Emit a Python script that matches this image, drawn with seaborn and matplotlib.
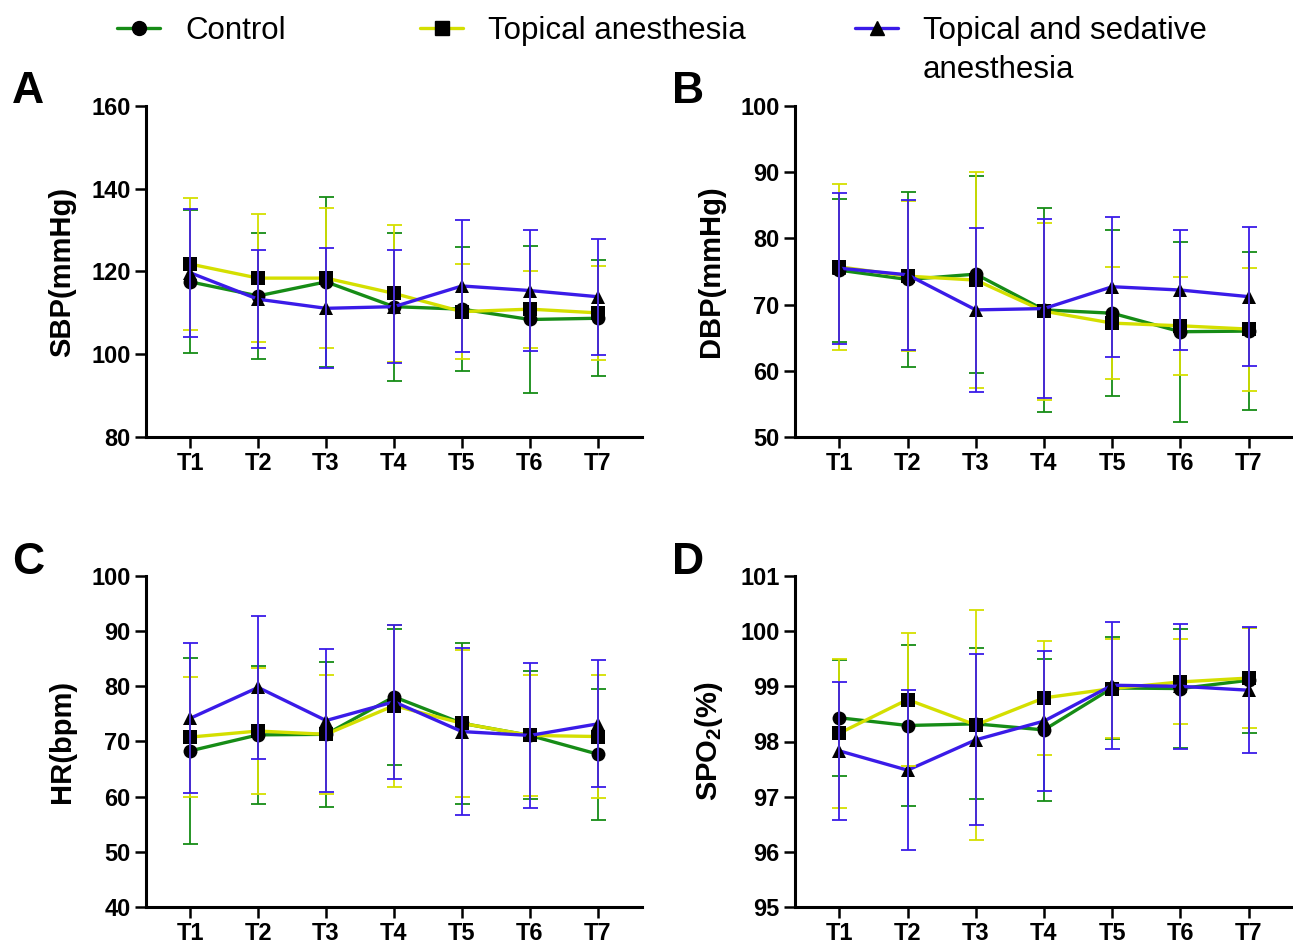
import pandas as pd
import matplotlib
matplotlib.use('Agg')
import matplotlib.pyplot as plt
import seaborn as sns
from matplotlib.lines import Line2D

# Time points and groups
times = ['T1', 'T2', 'T3', 'T4', 'T5', 'T6', 'T7']
groups = ['Control', 'Topical anesthesia', 'Topical and sedative anesthesia']
colors = ['#168c16', '#d4df00', '#3a1be8']
markers = ['o', 's', '^']

# SBP (mmHg): mean and SD
sbp_control = [117.5, 114.1, 117.5, 111.5, 110.9, 108.4, 108.7]
sbp_control_sd = [17.3, 15.2, 20.6, 17.9, 15.0, 17.8, 14.0]
sbp_topical = [121.8, 118.4, 118.4, 114.7, 110.3, 110.9, 110.0]
sbp_topical_sd = [16.0, 15.5, 17.0, 16.6, 11.4, 9.3, 11.4]
sbp_sedative = [119.7, 113.3, 111.1, 111.5, 116.5, 115.4, 113.9]
sbp_sedative_sd = [15.5, 11.8, 14.5, 13.6, 15.9, 14.7, 14.0]

# DBP (mmHg)
dbp_control = [75.2, 73.8, 74.6, 69.2, 68.7, 65.9, 66.0]
dbp_control_sd = [10.8, 13.2, 14.9, 15.4, 12.5, 13.6, 11.9]
dbp_topical = [75.7, 74.3, 73.7, 69.0, 67.2, 66.8, 66.3]
dbp_topical_sd = [12.5, 11.3, 16.3, 13.4, 8.5, 7.4, 9.3]
dbp_sedative = [75.5, 74.5, 69.2, 69.4, 72.7, 72.2, 71.2]
dbp_sedative_sd = [11.4, 11.3, 12.4, 13.5, 10.6, 9.1, 10.5]

# HR (bpm)
hr_control = [68.3, 71.2, 71.3, 78.1, 73.3, 71.1, 67.7]
hr_control_sd = [16.8, 12.5, 13.1, 12.3, 14.6, 11.6, 11.9]
hr_topical = [70.8, 71.9, 71.3, 76.5, 73.3, 71.1, 70.9]
hr_topical_sd = [10.9, 11.4, 10.8, 14.7, 13.3, 10.9, 11.1]
hr_sedative = [74.2, 79.8, 73.8, 77.2, 71.8, 71.1, 73.2]
hr_sedative_sd = [13.6, 13.0, 12.9, 14.0, 15.1, 13.2, 11.5]

# SpO2 (%)
spo2_control = [98.43, 98.29, 98.32, 98.21, 98.97, 98.96, 99.11]
spo2_control_sd = [1.05, 1.46, 1.37, 1.29, 0.92, 1.08, 0.95]
spo2_topical = [98.15, 98.76, 98.30, 98.79, 98.96, 99.08, 99.15]
spo2_topical_sd = [1.35, 1.20, 2.08, 1.03, 0.90, 0.77, 0.90]
spo2_sedative = [97.83, 97.48, 98.03, 98.37, 99.02, 99.00, 98.93]
spo2_sedative_sd = [1.25, 1.45, 1.55, 1.27, 1.15, 1.13, 1.14]

panels = [
    ('A', 'SBP(mmHg)', [sbp_control, sbp_topical, sbp_sedative],
     [sbp_control_sd, sbp_topical_sd, sbp_sedative_sd], (80, 160), 20),
    ('B', 'DBP(mmHg)', [dbp_control, dbp_topical, dbp_sedative],
     [dbp_control_sd, dbp_topical_sd, dbp_sedative_sd], (50, 100), 10),
    ('C', 'HR(bpm)', [hr_control, hr_topical, hr_sedative],
     [hr_control_sd, hr_topical_sd, hr_sedative_sd], (40, 100), 10),
    ('D', r'SPO$_\mathbf{2}$(%)', [spo2_control, spo2_topical, spo2_sedative],
     [spo2_control_sd, spo2_topical_sd, spo2_sedative_sd], (95, 101), 1),
]

sns.set_style('ticks')
plt.rcParams['font.family'] = ['Liberation Sans', 'DejaVu Sans']
plt.rcParams['mathtext.fontset'] = 'custom'
plt.rcParams['mathtext.rm'] = 'Liberation Sans'
plt.rcParams['mathtext.bf'] = 'Liberation Sans:bold'
for key in ['text.color', 'axes.labelcolor', 'xtick.color', 'ytick.color', 'axes.edgecolor']:
    plt.rcParams[key] = 'black'

W, H = 1293, 949
fig = plt.figure(figsize=(W / 100, H / 100), dpi=100)

# axes boxes in pixels: left, top, right, bottom
boxes = [(146, 106, 642, 437), (795, 106, 1293, 437),
         (146, 576, 642, 907), (795, 576, 1293, 907)]
letter_pos = [(12, 103), (672, 103), (12, 574), (672, 574)]

for (letter, ylabel, means, sds, ylim, step), box, lp in zip(panels, boxes, letter_pos):
    l, t, r, b = box
    ax = fig.add_axes([l / W, 1 - b / H, (r - l) / W, (b - t) / H])

    df = pd.DataFrame({
        'time': times * 3,
        'group': [g for g in groups for _ in times],
        'value': [v for m in means for v in m],
    })
    sns.lineplot(data=df, x='time', y='value', hue='group', style='group',
                 hue_order=groups, style_order=groups,
                 palette=colors, markers=markers, dashes=False,
                 linewidth=2.4, markersize=10, markerfacecolor='black',
                 markeredgecolor='black', markeredgewidth=0,
                 legend=False, ax=ax, zorder=2, clip_on=False)
    for m, s, c in zip(means, sds, colors):
        ax.errorbar(times, m, yerr=s, fmt='none', ecolor=c, elinewidth=1.3,
                    capsize=5.4, capthick=1.3, zorder=3, clip_on=False)

    ax.set_xlim(-0.65, 6.65)
    ax.set_ylim(*ylim)
    ax.set_yticks(range(ylim[0], ylim[1] + 1, step))
    ax.set_xlabel('')
    ax.set_ylabel(ylabel, fontsize=21, fontweight='bold', labelpad=11)
    sns.despine(ax=ax)
    for sp in ['left', 'bottom']:
        ax.spines[sp].set_linewidth(2.2)
    ax.tick_params(axis='both', length=8, width=1.8, labelsize=17, pad=3)
    for lab in ax.get_xticklabels() + ax.get_yticklabels():
        lab.set_fontweight('bold')
    fig.text(lp[0] / W, 1 - lp[1] / H, letter, fontsize=32, fontweight='bold',
             ha='left', va='baseline')

# legend across the top
legend_x = [117, 420, 855]
legend_labels = ['Control', 'Topical anesthesia', 'Topical and sedative']
for x, lab, c, mk in zip(legend_x, legend_labels, colors, markers):
    h = Line2D([], [], color=c, lw=2.4, marker=mk, markersize=10,
               markerfacecolor='black', markeredgecolor='black')
    fig.legend(handles=[h], labels=[lab], loc='center left',
               bbox_to_anchor=(x / W, 1 - 31 / H), frameon=False,
               borderpad=0, borderaxespad=0, handlelength=1.38,
               handletextpad=0.8, fontsize=22.5)
fig.text(923 / W, 1 - 70 / H, 'anesthesia', fontsize=22.5, ha='left', va='center')

fig.savefig('out.png', dpi=100)
